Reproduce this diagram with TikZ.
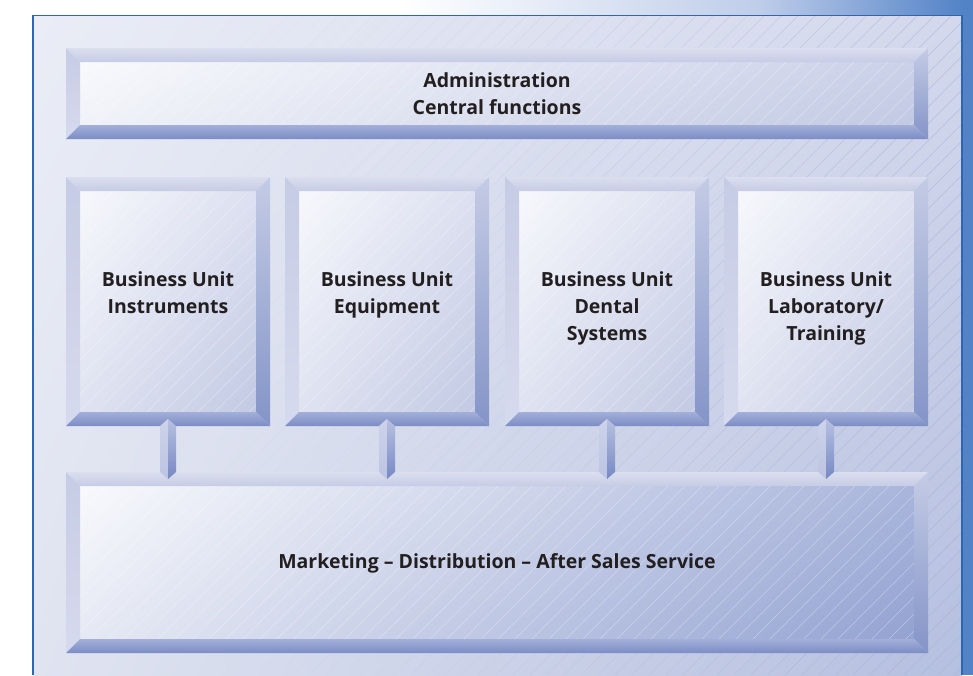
\documentclass[tikz,border=0pt]{standalone}
\usepackage{fontspec}
\setmainfont{Open Sans}
\usetikzlibrary{calc,shadings}
\definecolor{txtc}{HTML}{231F20}
\definecolor{framec}{HTML}{2F66B0}
\definecolor{stripc}{HTML}{5383C7}
\definecolor{bandmid}{HTML}{BFCDEA}
\definecolor{hatchc}{HTML}{A3AFD9}
\definecolor{bevT1}{HTML}{DADEEF}
\definecolor{bevT2}{HTML}{C6CCE5}
\definecolor{bevL1}{HTML}{C6CCE5}
\definecolor{bevL2}{HTML}{D6DAEE}
\definecolor{bevR1}{HTML}{C4CBE5}
\definecolor{bevR2}{HTML}{8494C8}
\definecolor{bevB1}{HTML}{A3AFD9}
\definecolor{bevB2}{HTML}{7C8DC5}
\definecolor{conL1}{HTML}{CDD3EA}
\definecolor{conL2}{HTML}{BCC4E2}
\definecolor{conR1}{HTML}{B8C1E1}
\definecolor{conR2}{HTML}{7788C3}
\tikzset{
  boxn/.style={rectangle, inner sep=0pt, outer sep=0pt, draw=none},
  txt/.style={font=\bfseries\fontsize{19.5}{27}\selectfont, align=center, text=txtc, inner sep=0pt},
  hatchline/.style={draw=hatchc, line width=0.6pt},
  facehatch/.style={draw=white, line width=0.6pt, opacity=0.35},
}
\definecolor{fUL}{HTML}{F7F8FC}
\definecolor{fUR}{HTML}{DCE0F0}
\definecolor{fLL}{HTML}{DFE3F1}
\definecolor{fLR}{HTML}{C2C9E3}
\definecolor{aUL}{HTML}{F8F9FC}
\definecolor{aUR}{HTML}{CBD1E9}
\definecolor{aLL}{HTML}{F0F2F8}
\definecolor{aLR}{HTML}{C2C9E3}
\definecolor{mUL}{HTML}{F8F9FC}
\definecolor{mUR}{HTML}{A9B5DB}
\definecolor{mLL}{HTML}{E6E9F4}
\definecolor{mLR}{HTML}{93A2D1}
\definecolor{gUL}{HTML}{EAEDF6}
\definecolor{gUR}{HTML}{D3D8EC}
\definecolor{gLL}{HTML}{E0E4F1}
\definecolor{gLR}{HTML}{B5BFDF}
\newcommand\bevbox[5]{%
  \path (#1.north west) coordinate (#1-nw) (#1.north east) coordinate (#1-ne)
        (#1.south west) coordinate (#1-sw) (#1.south east) coordinate (#1-se);
  \path ($(#1-nw)+(14,14)$) coordinate (#1-inw) ($(#1-ne)+(-14,14)$) coordinate (#1-ine)
        ($(#1-sw)+(14,-14)$) coordinate (#1-isw) ($(#1-se)+(-14,-14)$) coordinate (#1-ise);
  \shade[upper left=#2, upper right=#3, lower left=#4, lower right=#5] (#1-inw) rectangle (#1-ise);
  \begin{scope}
    \clip (#1-inw) rectangle (#1-ise);
    \foreach \c in {-660,-643,...,962} \draw[facehatch] (\c,675) -- ++(660,-660);
  \end{scope}
  \shade[top color=bevT1, bottom color=bevT2] (#1-nw) -- (#1-ne) -- (#1-ine) -- (#1-inw) -- cycle;
  \shade[top color=bevL1, bottom color=bevL2] (#1-nw) -- (#1-inw) -- (#1-isw) -- (#1-sw) -- cycle;
  \shade[top color=bevR1, bottom color=bevR2] (#1-ne) -- (#1-se) -- (#1-ise) -- (#1-ine) -- cycle;
  \shade[top color=bevB1, bottom color=bevB2] (#1-sw) -- (#1-isw) -- (#1-ise) -- (#1-se) -- cycle;
}
\newcommand\connbar[2]{%
  \path (#1.south) coordinate (#1-ct) (#1.south |- #2.north) coordinate (#1-cb);
  \shade[top color=conL1, bottom color=conL2] ($(#1-ct)+(0,-7)$) -- ($(#1-ct)+(-8,0)$) -- ($(#1-cb)+(-8,0)$) -- ($(#1-cb)+(0,7)$) -- cycle;
  \shade[top color=conR1, bottom color=conR2] ($(#1-ct)+(0,-7)$) -- ($(#1-ct)+(8,0)$) -- ($(#1-cb)+(8,0)$) -- ($(#1-cb)+(0,7)$) -- cycle;
}
\begin{document}
\begin{tikzpicture}[x=1pt,y=-1pt]
\useasboundingbox (0,0) rectangle (973,675);
% top band and right strip
\shade[left color=white, right color=bandmid] (400,0) rectangle (760,15);
\shade[left color=bandmid, right color=stripc] (759.5,0) rectangle (962,15);
\fill[stripc] (962,0) rectangle (973,675);
% frame background
\shade[upper left=gUL, upper right=gUR, lower left=gLL, lower right=gLR] (33,15) rectangle (962,675);
\foreach \b [evaluate=\b as \op using (\b/9)^2*0.6] in {0,...,9}{
  \begin{scope}
    \clip (33+\b*93,15) rectangle (33+\b*93+93,675);
    \foreach \c in {-660,-643,...,962} \draw[hatchline, opacity=\op] (\c,675) -- ++(660,-660);
  \end{scope}
}
\draw[framec, line width=1.5pt] (33,675) -- (33,15.5) -- (962,15.5) -- (962,675);
% boxes
\node[boxn, minimum width=862pt, minimum height=91pt] (admin) at (497,93.5) {};
\node[boxn, minimum width=204pt, minimum height=249pt] (bu1) at (168,301.5) {};
\node[boxn, minimum width=204pt, minimum height=249pt] (bu2) at (387,301.5) {};
\node[boxn, minimum width=204pt, minimum height=249pt] (bu3) at (607,301.5) {};
\node[boxn, minimum width=204pt, minimum height=249pt] (bu4) at (826,301.5) {};
\node[boxn, minimum width=862pt, minimum height=181pt] (mkt) at (497,562.5) {};
\bevbox{admin}{aUL}{aUR}{aLL}{aLR}
\bevbox{bu1}{fUL}{fUR}{fLL}{fLR}
\bevbox{bu2}{fUL}{fUR}{fLL}{fLR}
\bevbox{bu3}{fUL}{fUR}{fLL}{fLR}
\bevbox{bu4}{fUL}{fUR}{fLL}{fLR}
\bevbox{mkt}{mUL}{mUR}{mLL}{mLR}
\connbar{bu1}{mkt}
\connbar{bu2}{mkt}
\connbar{bu3}{mkt}
\connbar{bu4}{mkt}
% texts
\node[txt] (admintxt) at (admin.center) {Administration\\Central functions};
\node[txt, anchor=north] (bu1txt) at ($(bu1.north)+(0,94)$) {Business Unit\\Instruments};
\node[txt, anchor=north] (bu2txt) at ($(bu2.north)+(0,94)$) {Business Unit\\Equipment};
\node[txt, anchor=north] (bu3txt) at ($(bu3.north)+(0,94)$) {Business Unit\\Dental\\Systems};
\node[txt, anchor=north] (bu4txt) at ($(bu4.north)+(0,94)$) {Business Unit\\Laboratory/\\Training};
\node[txt] (mkttxt) at ($(mkt.center)+(0,1)$) {Marketing -- Distribution -- After Sales Service};
\end{tikzpicture}
\end{document}
